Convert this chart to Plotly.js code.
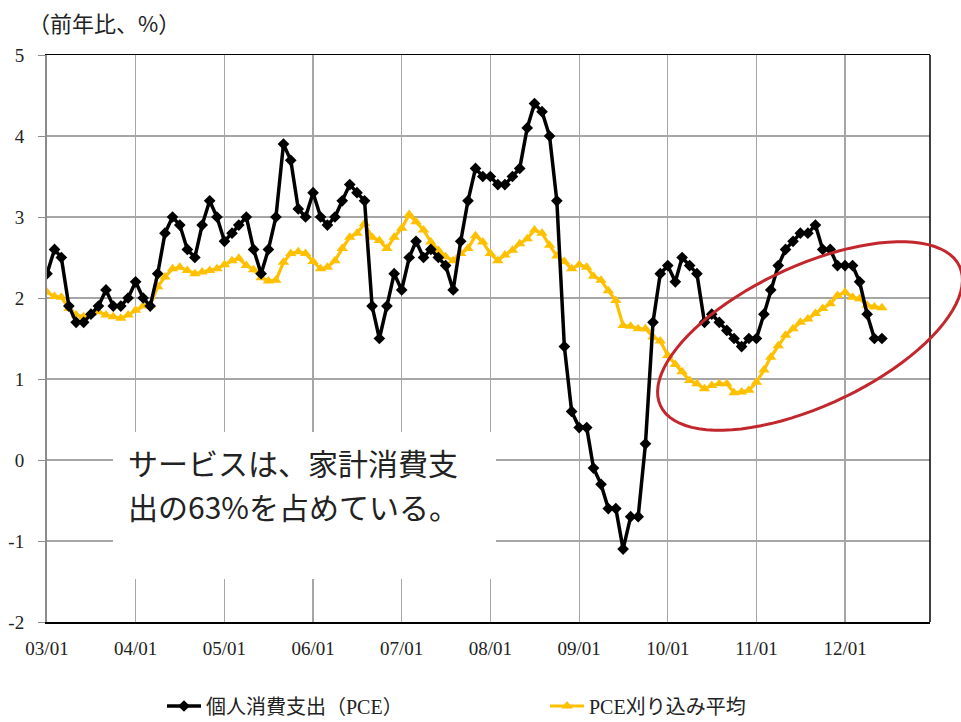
<!DOCTYPE html>
<html>
<head>
<meta charset="utf-8">
<script src="https://cdn.plot.ly/plotly-3.0.1.min.js"></script>
<style>
html,body{margin:0;padding:0;background:#fff;}
#chart{width:961px;height:722px;}
</style>
</head>
<body>
<div id="chart"></div>
<script>
// ---- data ----
const startYear = 2003;
const startMonth = 1;
const pceNames = ['個人消費支出（PCE）', 'PCE刈り込み平均'];
const tickFormat = '%y/%m';
const yTickVals = [-2, -1, 0, 1, 2, 3, 4, 5];
const yTickText = ['-2', '-1', '0', '1', '2', '3', '4', '5'];

const pce = [
  2.3, 2.6, 2.5, 1.9, 1.7, 1.7, 1.8, 1.9, 2.1, 1.9, 1.9, 2.0,
  2.2, 2.0, 1.9, 2.3, 2.8, 3.0, 2.9, 2.6, 2.5, 2.9, 3.2, 3.0,
  2.7, 2.8, 2.9, 3.0, 2.6, 2.3, 2.6, 3.0, 3.9, 3.7, 3.1, 3.0,
  3.3, 3.0, 2.9, 3.0, 3.2, 3.4, 3.3, 3.2, 1.9, 1.5, 1.9, 2.3,
  2.1, 2.5, 2.7, 2.5, 2.6, 2.5, 2.4, 2.1, 2.7, 3.2, 3.6, 3.5,
  3.5, 3.4, 3.4, 3.5, 3.6, 4.1, 4.4, 4.3, 4.0, 3.2, 1.4, 0.6,
  0.4, 0.4, -0.1, -0.3, -0.6, -0.6, -1.1, -0.7, -0.7, 0.2, 1.7, 2.3,
  2.4, 2.2, 2.5, 2.4, 2.3, 1.7, 1.8, 1.7, 1.6, 1.5, 1.4, 1.5,
  1.5, 1.8, 2.1, 2.4, 2.6, 2.7, 2.8, 2.8, 2.9, 2.6, 2.6, 2.4,
  2.4, 2.4, 2.2, 1.8, 1.5, 1.5
];

const trimmed = [
  2.07, 2.02, 2.01, 1.87, 1.79, 1.77, 1.81, 1.83, 1.79, 1.77, 1.75, 1.79,
  1.85, 1.90, 1.91, 2.14, 2.26, 2.36, 2.38, 2.34, 2.30, 2.32, 2.34, 2.36,
  2.41, 2.46, 2.49, 2.40, 2.35, 2.25, 2.21, 2.22, 2.44, 2.55, 2.57, 2.55,
  2.45, 2.36, 2.38, 2.46, 2.61, 2.75, 2.80, 2.92, 2.75, 2.71, 2.61, 2.75,
  2.86, 3.03, 2.94, 2.84, 2.69, 2.59, 2.51, 2.46, 2.55, 2.61, 2.77, 2.69,
  2.55, 2.46, 2.53, 2.59, 2.67, 2.73, 2.84, 2.80, 2.65, 2.52, 2.45, 2.36,
  2.41, 2.38, 2.27, 2.22, 2.09, 1.97, 1.66, 1.65, 1.62, 1.62, 1.52, 1.47,
  1.29, 1.18, 1.09, 0.98, 0.94, 0.88, 0.92, 0.94, 0.94, 0.83, 0.84, 0.86,
  0.96, 1.11, 1.27, 1.41, 1.54, 1.62, 1.70, 1.74, 1.81, 1.87, 1.93, 2.03,
  2.07, 2.01, 1.99, 1.91, 1.89, 1.88
];

const titleText = '（前年比、%）';
const noteLines = ['サービスは、家計消費支', '出の63%を占めている。'];

// month categories
function monthList(n) {
  const out = [];
  for (let i = 0; i < n; i++) {
    const m0 = (startMonth - 1) + i;
    const y = startYear + Math.floor(m0 / 12);
    const m = (m0 % 12) + 1;
    out.push(y + '-' + String(m).padStart(2, '0') + '-01');
  }
  return out;
}
const months = monthList(pce.length);

// ---- layout helpers (pixel -> paper) ----
const W = 961, H = 722;
const M = {l: 47, r: 31, t: 55, b: 100, autoexpand: false};
const PW = W - M.l - M.r, PH = H - M.t - M.b;
const px = x => (x - M.l) / PW;
const py = y => 1 - (y - M.t) / PH;

function ellipsePath(cx, cy, a, b, deg) {
  const phi = deg * Math.PI / 180;
  let d = '';
  const N = 90;
  for (let k = 0; k <= N; k++) {
    const t = 2 * Math.PI * k / N;
    const x = cx + a * Math.cos(t) * Math.cos(phi) + b * Math.sin(t) * Math.sin(phi);
    const y = cy - a * Math.cos(t) * Math.sin(phi) + b * Math.sin(t) * Math.cos(phi);
    d += (k === 0 ? 'M' : 'L') + px(x).toFixed(5) + ',' + py(y).toFixed(5);
  }
  return d + 'Z';
}

const serif = '"Liberation Serif", "Times New Roman", serif';
const cjk = '"Noto Sans CJK JP", "Noto Sans", sans-serif';

const traces = [
  {
    x: months, y: trimmed, name: pceNames[1], type: 'scatter', mode: 'lines+markers',
    line: {color: '#FFC000', width: 3.2},
    marker: {symbol: 'triangle-up', size: 10, color: '#FFC000'}
  },
  {
    x: months, y: pce, name: pceNames[0], type: 'scatter', mode: 'lines+markers',
    line: {color: '#000000', width: 3.5},
    marker: {symbol: 'diamond', size: 9, color: '#000000'}
  }
];

const noteAnnotations = noteLines.map((t, k) => ({
  text: t, xref: 'paper', yref: 'paper', x: px(126), y: py(462 + 44 * k),
  xanchor: 'left', yanchor: 'middle', align: 'left', showarrow: false,
  font: {family: cjk, size: 30, color: '#222'}
}));

const layout = {
  width: W, height: H,
  margin: M,
  paper_bgcolor: '#fff', plot_bgcolor: '#fff',
  showlegend: true,
  legend: {
    orientation: 'h', traceorder: 'reversed',
    x: px(162), xanchor: 'left', y: py(706), yanchor: 'middle',
    font: {family: serif + ', ' + cjk, size: 20, color: '#222'},
    itemwidth: 34,
    entrywidth: 334, entrywidthmode: 'pixels',
    bgcolor: 'rgba(0,0,0,0)'
  },
  xaxis: {
    type: 'date',
    range: ['2003-01-01', '2012-12-16'],
    tick0: '2003-01-01', dtick: 'M12', tickformat: tickFormat,
    showgrid: true, gridcolor: '#a6a6a6', gridwidth: 1.2,
    showline: true, linecolor: '#000', linewidth: 1.5, mirror: true,
    ticks: '', ticklabelstandoff: 9,
    tickfont: {family: serif, size: 19, color: '#222'},
    zeroline: false
  },
  yaxis: {
    range: [-2, 5],
    tickmode: 'array', tickvals: yTickVals, ticktext: yTickText,
    showgrid: true, gridcolor: '#a6a6a6', gridwidth: 1.2,
    showline: true, linecolor: '#8c8c8c', linewidth: 2,
    ticks: 'outside', ticklen: 7, tickcolor: '#8c8c8c',
    ticklabelstandoff: 10,
    tickfont: {family: serif, size: 19, color: '#222'},
    zeroline: false
  },
  shapes: [
    {type: 'line', xref: 'paper', yref: 'paper', x0: 1, x1: 1, y0: 0, y1: 1,
     line: {color: '#000', width: 1.5}},
    {type: 'rect', xref: 'paper', yref: 'paper', layer: 'above',
     x0: px(113), x1: px(496), y0: py(579), y1: py(432),
     fillcolor: '#fff', line: {width: 0}},
    {type: 'path', xref: 'paper', yref: 'paper', layer: 'above',
     path: ellipsePath(810, 336, 165, 70, 25),
     line: {color: '#C1272D', width: 3}}
  ],
  annotations: [
    {text: titleText, xref: 'paper', yref: 'paper', x: px(26), y: py(22),
     xanchor: 'left', yanchor: 'middle', showarrow: false,
     font: {family: cjk, size: 22, color: '#222'}}
  ].concat(noteAnnotations)
};

Plotly.newPlot('chart', traces, layout, {displayModeBar: false, staticPlot: true});
</script>
</body>
</html>
